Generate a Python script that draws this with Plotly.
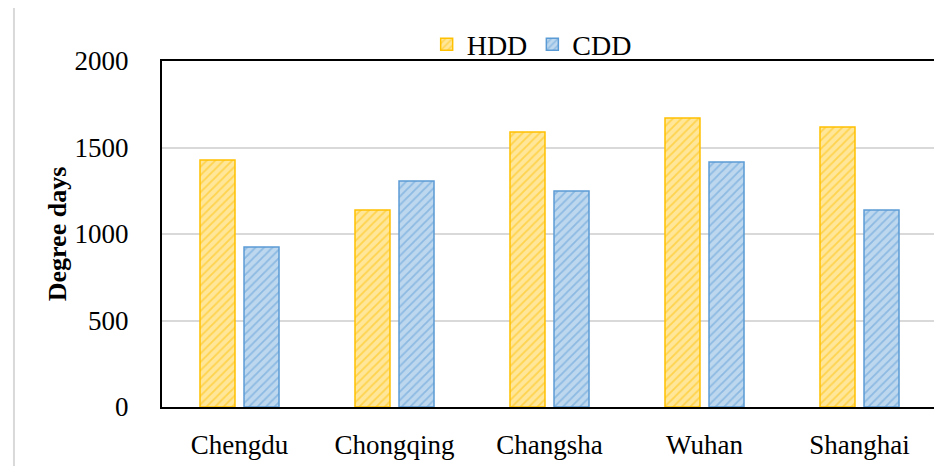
import plotly.graph_objects as go

cities = ["Chengdu", "Chongqing", "Changsha", "Wuhan", "Shanghai"]
hdd = [1428, 1139, 1590, 1671, 1618]
cdd = [925, 1306, 1249, 1416, 1139]
y_ticks = [0, 500, 1000, 1500, 2000]

FONT = "Liberation Serif"

fig = go.Figure()
fig.add_trace(go.Bar(
    x=cities, y=hdd, name="HDD",
    marker=dict(color="#FFE699", line=dict(color="#FFC000", width=1.5),
                pattern=dict(shape="/", fgcolor="#FFC000", bgcolor="#FFE699", size=6, solidity=0.3)),
))
fig.add_trace(go.Bar(
    x=cities, y=cdd, name="CDD",
    marker=dict(color="#BDD7EE", line=dict(color="#5B9BD5", width=1.5),
                pattern=dict(shape="/", fgcolor="#5B9BD5", bgcolor="#BDD7EE", size=6, solidity=0.3)),
))

fig.update_layout(
    width=942, height=466,
    margin=dict(l=154, r=13, t=53, b=67, autoexpand=False),
    paper_bgcolor="white", plot_bgcolor="white",
    font=dict(family=FONT, size=27, color="black"),
    barmode="group", bargap=0.432, bargroupgap=0.205,
    showlegend=True,
    legend=dict(orientation="h", x=0.477, xanchor="center", y=0.975, yanchor="bottom",
                font=dict(size=28), itemwidth=30, traceorder="normal",
                bgcolor="rgba(0,0,0,0)"),
    shapes=[dict(type="line", xref="paper", yref="paper", x0=-0.191, x1=-0.191, y0=-0.3, y1=1.3,
                 line=dict(color="#D9D9D9", width=2))],
)
fig.update_xaxes(showline=True, linecolor="black", linewidth=2, mirror=True,
                 tickfont=dict(size=27), ticks="", ticklabelstandoff=13)
fig.update_yaxes(range=[0, 2000], tickvals=y_ticks, showline=True, linecolor="black",
                 linewidth=2, mirror=True, gridcolor="#D9D9D9", gridwidth=1.5,
                 tickfont=dict(size=27), ticks="", ticklabelstandoff=26, zeroline=False,
                 title=dict(text="<b>Degree days</b>", font=dict(size=26), standoff=0))

fig.write_html("out.html")
